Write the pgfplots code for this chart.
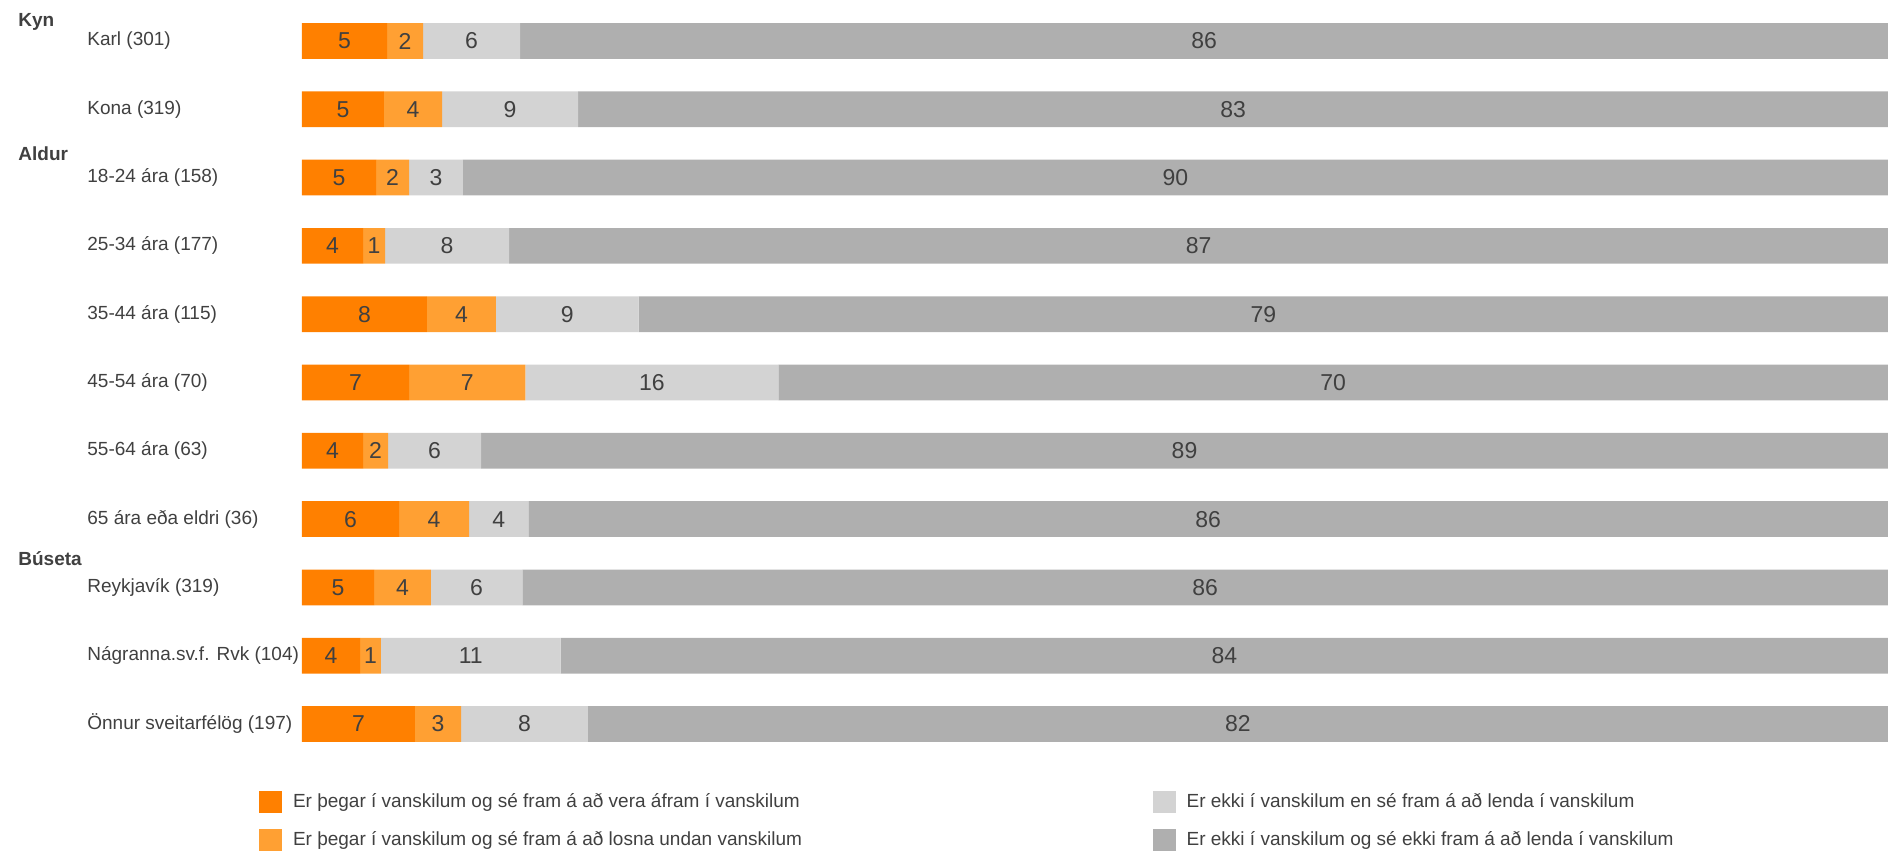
\documentclass[border=0pt]{standalone}
\usepackage{fontspec}
\setmainfont{Liberation Sans}
\usepackage{pgfplots}
\usepackage{pgfplotstable}
\pgfplotsset{compat=1.18}
\definecolor{cA}{HTML}{FF8000}
\definecolor{cB}{HTML}{FFA033}
\definecolor{cC}{HTML}{D3D3D3}
\definecolor{cD}{HTML}{AFAFAF}
\definecolor{textc}{HTML}{404040}
\pgfplotsset{every axis plot post/.append style={legend image code/.code={\fill[##1,draw=none] (0pt,-5.5pt) rectangle (11.5pt,5.5pt);}}}
\pgfplotstableread{
row a b c d
0 5.36 2.27 6.12 86.25
1 5.17 3.66 8.58 82.59
2 4.67 2.08 3.39 89.86
3 3.85 1.39 7.82 86.94
4 7.88 4.35 9.00 78.77
5 6.75 7.33 15.95 69.97
6 3.85 1.58 5.86 88.71
7 6.12 4.41 3.74 85.73
8 4.54 3.59 5.76 86.11
9 3.66 1.32 11.33 83.69
10 7.12 2.92 7.99 81.97
}\data
\begin{document}
\begin{tikzpicture}
\begin{axis}[
  xbar stacked,
  x=7.93pt, y=34.15pt, y dir=reverse,
  xmin=0, xmax=100, ymin=-0.6, ymax=10.6,
  bar width=0.523,
  axis line style={draw=none},
  major tick length=0pt,
  tick style={draw=none},
  xtick=\empty,
  ytick={0,...,10},
  yticklabels={Karl (301), Kona (319), 18-24 ára (158), 25-34 ára (177), 35-44 ára (115), 45-54 ára (70), 55-64 ára (63), 65 ára eða eldri (36), Reykjavík (319), Nágranna.sv.f. Rvk (104), Önnur sveitarfélög (197)},
  yticklabel style={anchor=west, xshift=-107.5pt, inner sep=0pt, font=\fontsize{9.5}{11}\selectfont, text=textc},
  clip=false,
  visualization depends on=rawx \as \rawx,
  nodes near coords={\pgfmathprintnumber[fixed,precision=0,assume math mode=true]{\rawx}},
  every node near coord/.append style={anchor=center, font=\fontsize{11.5}{13}\selectfont, text=textc, inner sep=0pt},
  legend columns=2, transpose legend,
  legend cell align=left,
  legend style={at={(-0.0271,-0.034)}, anchor=north west, draw=none, fill=none, inner sep=0pt, outer sep=0pt,
    font=\fontsize{9.5}{11}\selectfont, text=textc, nodes={inner sep=0pt},
    row sep=8pt,
    /tikz/every odd column/.append style={column sep=5.5pt},
    /tikz/every even column/.append style={column sep=175.3pt}},
]
\addplot[fill=cA, draw=none] table[x=a, y=row] {\data};
\addplot[fill=cB, draw=none] table[x=b, y=row] {\data};
\addplot[fill=cC, draw=none] table[x=c, y=row] {\data};
\addplot[fill=cD, draw=none] table[x=d, y=row] {\data};
\legend{Er þegar í vanskilum og sé fram á að vera áfram í vanskilum, Er þegar í vanskilum og sé fram á að losna undan vanskilum, Er ekki í vanskilum en sé fram á að lenda í vanskilum, Er ekki í vanskilum og sé ekki fram á að lenda í vanskilum}
\node[anchor=base west, inner sep=0pt, font=\bfseries\fontsize{9.5}{11}\selectfont, text=textc] at ([xshift=-142pt]axis cs:0,-0.208) {Kyn};
\node[anchor=base west, inner sep=0pt, font=\bfseries\fontsize{9.5}{11}\selectfont, text=textc] at ([xshift=-142pt]axis cs:0,1.755) {Aldur};
\node[anchor=base west, inner sep=0pt, font=\bfseries\fontsize{9.5}{11}\selectfont, text=textc] at ([xshift=-142pt]axis cs:0,7.686) {Búseta};
\path[draw=none] ([xshift=-151pt]axis cs:0,-0.6) rectangle ++(944pt,-425.5pt);
\end{axis}
\end{tikzpicture}
\end{document}
